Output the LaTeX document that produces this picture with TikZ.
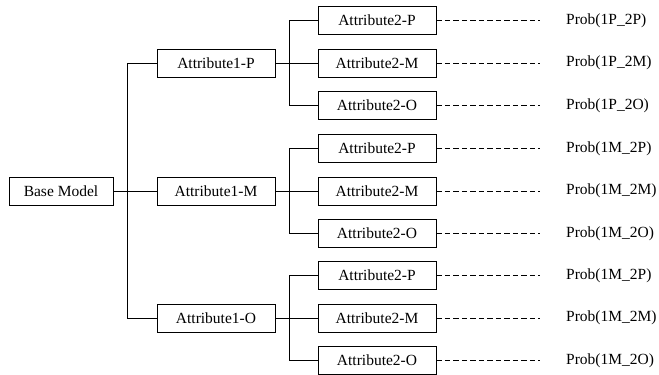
\documentclass[tikz,border=0pt]{standalone}
\usepackage{fontspec}
\setmainfont{Liberation Serif}
\begin{document}
\begin{tikzpicture}[x=1pt,y=-1pt,
  box/.style={draw, line width=0.9pt, minimum height=28pt, inner sep=0pt, font=\fontsize{15.5}{17}\selectfont},
  boxa/.style={box, minimum width=118pt},
  probtext/.style={anchor=west, inner sep=0pt, font=\fontsize{15.5}{17}\selectfont},
  conn/.style={line width=0.9pt},
  dconn/.style={line width=0.9pt, dash pattern=on 5.5pt off 3pt, shorten >=26pt}]
\useasboundingbox (0,0) rectangle (659,375);
\node[box, minimum width=104pt] (base) at (61,191) {Base Model};
\node[boxa] (a1p) at (216,63) {Attribute1-P};
\node[boxa] (a1m) at (216,191) {Attribute1-M};
\node[boxa] (a1o) at (216,318) {Attribute1-O};
\draw[conn] (base.east) -- (a1m.west);
\draw[conn] (base.east) -- +(14,0) |- (a1p.west);
\draw[conn] (base.east) -- +(14,0) |- (a1o.west);
\foreach \g/\yc/\pre in {p/63/1P, m/191/1M, o/318/1M}{
  \node[boxa] (b\g p) at (377,\yc-42.5) {Attribute2-P};
  \node[boxa] (b\g m) at (377,\yc) {Attribute2-M};
  \node[boxa] (b\g o) at (377,\yc+42.5) {Attribute2-O};
  \node[probtext] (r\g p) at (566,\yc-42.5) {Prob(\pre\_2P)};
  \node[probtext] (r\g m) at (566,\yc) {Prob(\pre\_2M)};
  \node[probtext] (r\g o) at (566,\yc+42.5) {Prob(\pre\_2O)};
  \draw[conn] (a1\g.east) -- (b\g m.west);
  \draw[conn] (a1\g.east) -- +(14,0) |- (b\g p.west);
  \draw[conn] (a1\g.east) -- +(14,0) |- (b\g o.west);
  \draw[dconn] (b\g p.east) -- (r\g p.west);
  \draw[dconn] (b\g m.east) -- (r\g m.west);
  \draw[dconn] (b\g o.east) -- (r\g o.west);
}
\end{tikzpicture}
\end{document}
